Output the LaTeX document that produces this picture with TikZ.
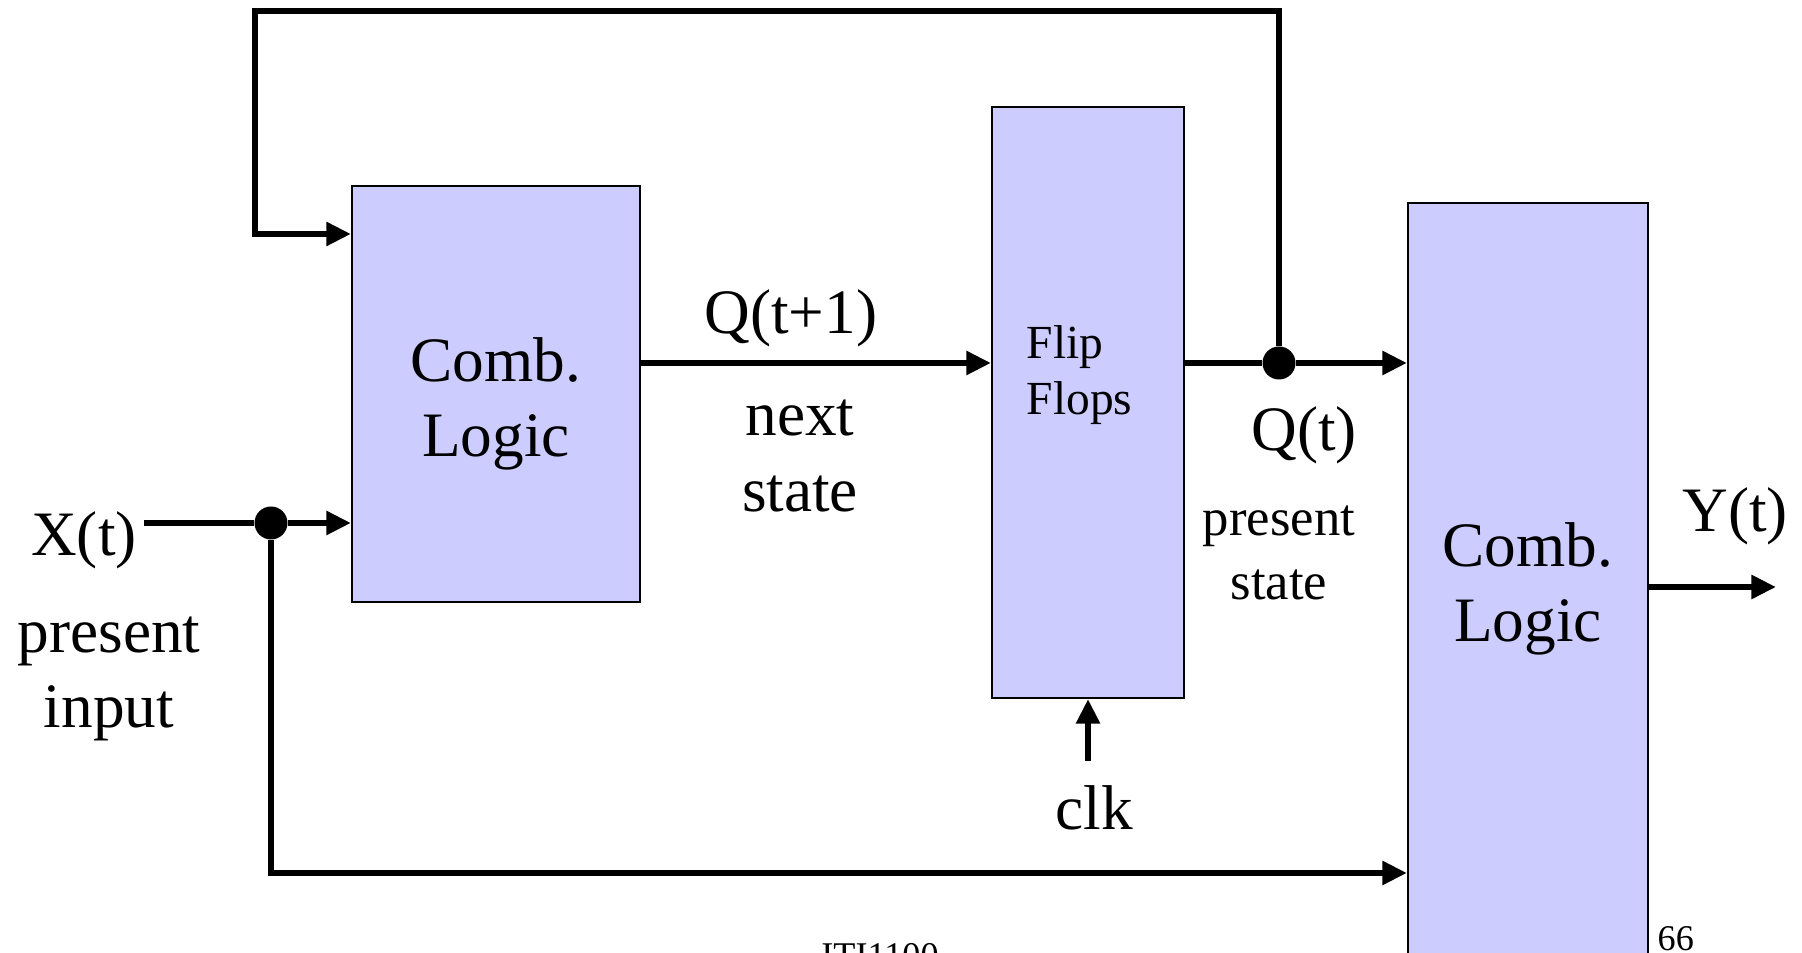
\documentclass[tikz,border=0pt]{standalone}
\usepackage{fontspec}
\setmainfont{Liberation Serif}
\usetikzlibrary{arrows.meta,positioning}
\definecolor{lavender}{RGB}{204,204,255}

\begin{document}
\begin{tikzpicture}[>={Triangle[length=7pt,width=6.5pt]},
    bx/.style={draw,line width=0.6pt,fill=lavender,inner sep=0pt},
    wire/.style={line width=1.7pt},
    big/.style={font=\fontsize{18}{21.5}\selectfont,align=center},
    mid/.style={font=\fontsize{15}{18}\selectfont,align=center},
    tiny/.style={font=\fontsize{10.3}{12}\selectfont,inner sep=0pt},
    dot/.style={circle,fill,inner sep=0pt,minimum size=3.3mm}]
  \useasboundingbox (0,0) rectangle (18.02,9.53);
  \clip (0,0) rectangle (18.02,9.53);
  % blocks
  \node[bx,minimum width=28.8mm,minimum height=41.6mm] (cl1) at (4.96,5.59) {};
  \node[big] (cl1txt) at (4.96,5.49) {Comb.\\Logic};
  \node[bx,minimum width=19.2mm,minimum height=59.1mm] (ff) at (10.88,5.505) {};
  \node[anchor=west,inner sep=0pt,align=left,font=\fontsize{13.5}{16}\selectfont] (fftxt) at (10.26,5.78) {Flip\\Flops};
  \node[bx,minimum width=24mm,minimum height=76mm] (cl2) at (15.28,3.70) {};
  \node[big] (cl2txt) at (15.28,3.64) {Comb.\\Logic};
  % junctions and free ends
  \node[dot] (xdot) at (2.71,4.30) {};
  \node[dot] (qdot) at (12.79,5.90) {};
  \coordinate (xin) at (1.44,4.30);
  \coordinate (xbot) at (2.71,0.80);
  \coordinate (fbr) at (12.79,9.415);
  \coordinate (fbl) at (2.55,9.415);
  \coordinate (fbd) at (2.55,7.19);
  \coordinate (qline) at (0,5.90);
  \coordinate (yline) at (0,3.66);
  \coordinate (yout) at (17.76,3.66);
  \coordinate (clkin) at (10.88,1.92);
  % wires
  \draw[wire] (xin) -- (xdot);
  \draw[wire,->] (xdot) -- (xdot -| cl1.west);
  \draw[wire,->] (xdot) -- (xbot) -- (xbot -| cl2.west);
  \draw[wire,->] (cl1.east |- qline) -- (ff.west |- qline);
  \draw[wire] (ff.east |- qline) -- (qdot);
  \draw[wire,->] (qdot) -- (qdot -| cl2.west);
  \draw[wire,->] (qdot) -- (fbr) -- (fbl) -- (fbd) -- (fbd -| cl1.west);
  \draw[wire,->] (cl2.east |- yline) -- (yout);
  \draw[wire,->] (clkin) -- (ff.south);
  % labels
  \node[big] (xt) at (0.84,4.13) {X(t)};
  \node[big] (pin) at (1.09,2.74) {present\\input};
  \node[big] (qt1) at (7.91,6.35) {Q(t+1)};
  \node[big] (nst) at (8.00,4.97) {next\\state};
  \node[big] (qt) at (13.04,5.18) {Q(t)};
  \node[mid] (pst) at (12.79,4.00) {present\\state};
  \node[big] (yt) at (17.35,4.37) {Y(t)};
  \node[big] (clk) at (10.94,1.45) {clk};
  \node[tiny,anchor=base] (foot) at (8.80,-0.14) {ITI1100};
  \node[tiny,anchor=base west] (pg) at (16.57,0.03) {66};
\end{tikzpicture}
\end{document}
